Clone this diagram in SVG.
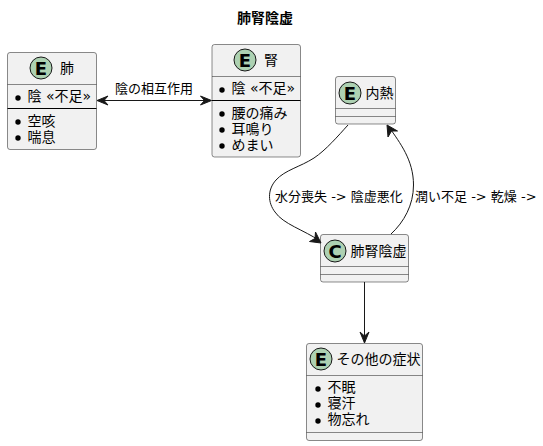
<svg xmlns="http://www.w3.org/2000/svg" width="543" height="446" viewBox="0 0 543 446">
<style>
text{font-family:"DejaVu Sans","Noto Sans CJK JP",sans-serif;font-size:14px;fill:#000}
.t{font-size:14px;font-weight:bold}
.l{font-size:13px}
.c{font-family:"DejaVu Sans",sans-serif;font-size:18px;font-weight:bold;text-anchor:middle}
.b{fill:#f1f1f1;stroke:#181818;stroke-width:.5}
.s{stroke:#181818;stroke-width:.5;fill:none}
.k{stroke:#000;stroke-width:1;fill:none}
.i{fill:#add1b2;stroke:#181818;stroke-width:1}
.d{fill:#000}
.e{fill:none;stroke:#181818;stroke-width:1}
.a{fill:#181818;stroke:#181818;stroke-width:1}
</style>
<rect width="543" height="446" fill="#fff"/>
<text class="t" x="237" y="23">肺腎陰虚</text>
<g id="n1">
<rect class="b" x="7.500" y="52.500" width="89" height="97" rx="2.500"/>
<circle class="i" cx="41" cy="68" r="11"/><text class="c" x="41" y="74.500">E</text>
<text x="60" y="73">肺</text>
<path class="s" d="M7.500 84.500H96.500"/><path class="k" d="M7.500 108.500H96.500"/>
<circle class="d" cx="18" cy="98" r="2.700"/><text x="27.500" y="101">陰 «不足»</text>
<circle class="d" cx="18" cy="122" r="2.700"/><text x="27.500" y="126">空咳</text>
<circle class="d" cx="18" cy="138" r="2.700"/><text x="27.500" y="142">喘息</text>
</g>
<g id="n2">
<rect class="b" x="212" y="44.500" width="88.500" height="112.500" rx="2.500"/>
<circle class="i" cx="245" cy="60" r="11"/><text class="c" x="245" y="66.500">E</text>
<text x="264" y="65">腎</text>
<path class="s" d="M212 76.500H300.500"/><path class="k" d="M212 100.500H300.500"/>
<circle class="d" cx="222" cy="90" r="2.700"/><text x="231.500" y="93">陰 «不足»</text>
<circle class="d" cx="222" cy="114" r="2.700"/><text x="231.500" y="118">腰の痛み</text>
<circle class="d" cx="222" cy="130" r="2.700"/><text x="231.500" y="134">耳鳴り</text>
<circle class="d" cx="222" cy="146" r="2.700"/><text x="231.500" y="150">めまい</text>
</g>
<g id="n3">
<rect class="b" x="335.500" y="76.500" width="60" height="47.500" rx="2.500"/>
<circle class="i" cx="350" cy="93" r="11"/><text class="c" x="350" y="99.500">E</text>
<text x="365.500" y="98">内熱</text>
<path class="s" d="M335.500 108.500H395.500M335.500 116.500H395.500"/>
</g>
<g id="n4">
<rect class="b" x="320.500" y="234.500" width="88" height="47.500" rx="2.500"/>
<circle class="i" cx="335" cy="251" r="11"/><text class="c" x="335" y="257.500">C</text>
<text x="350.500" y="256">肺腎陰虚</text>
<path class="s" d="M320.500 266.500H408.500M320.500 274.500H408.500"/>
</g>
<g id="n5">
<rect class="b" x="306.500" y="343.500" width="116" height="97" rx="2.500"/>
<circle class="i" cx="321" cy="359" r="11"/><text class="c" x="321" y="365.500">E</text>
<text x="336.500" y="364">その他の症状</text>
<path class="s" d="M306.500 375.500H422.500M306.500 432.500H422.500"/>
<circle class="d" cx="318" cy="389" r="2.700"/><text x="327.500" y="392">不眠</text>
<circle class="d" cx="318" cy="405" r="2.700"/><text x="327.500" y="408">寝汗</text>
<circle class="d" cx="318" cy="421" r="2.700"/><text x="327.500" y="424">物忘れ</text>
</g>
<g id="connectors">
<path class="e" d="M97 100.500H211"/>
<path class="a" d="M97 100.500L108 96L104 100.500L108 105Z"/>
<path class="a" d="M211.500 100.500L200.500 96L204.500 100.500L200.500 105Z"/>
<text class="l" x="115" y="93">陰の相互作用</text>
<path class="e" d="M348 125C338 136 326 150 314 158C300 167 285 170 276 180C267 190 268 203 275 212C283 224 304 230 320 241"/>
<path class="a" d="M321 243L309.500 241.500L315 238.500L315.500 232Z"/>
<text class="l" x="275" y="201">水分喪失 -&gt; 陰虚悪化</text>
<path class="e" d="M391 234C404 222 413.500 205 413.500 185C413.500 160 400 143 389 127"/>
<path class="a" d="M387 125L397.500 131L391.500 131L388 137Z"/>
<text class="l" x="415" y="201">潤い不足 -&gt; 乾燥 -&gt;</text>
<path class="e" d="M364.500 282V342"/>
<path class="a" d="M364.500 343L360 332L364.500 336L369 332Z"/>
</g>
</svg>
